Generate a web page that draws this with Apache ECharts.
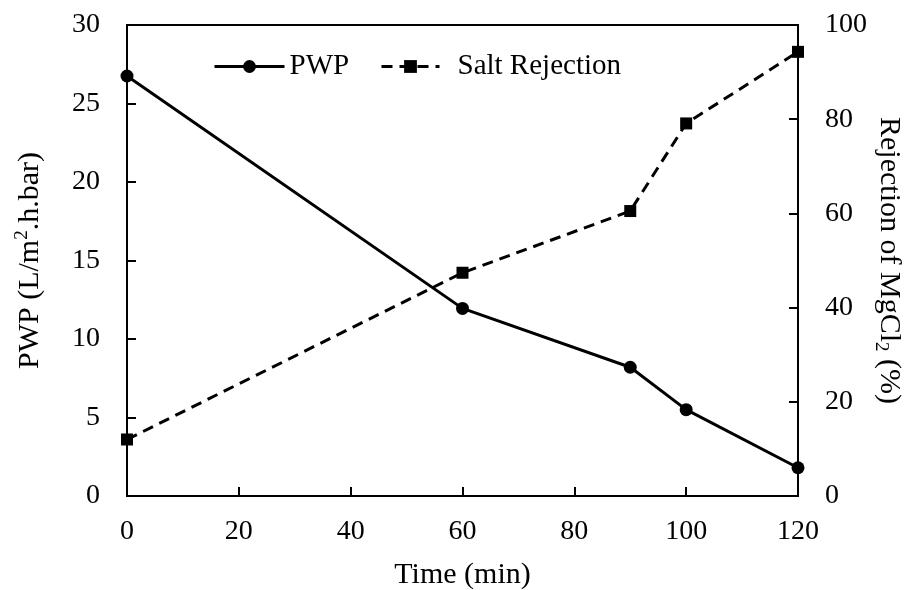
<!DOCTYPE html>
<html>
<head>
<meta charset="utf-8">
<script src="https://cdn.jsdelivr.net/npm/echarts@6/dist/echarts.min.js"></script>
<style>
  html, body { margin: 0; padding: 0; background: #fff; }
  #chart { width: 908px; height: 590px; }
</style>
</head>
<body>
<div id="chart"></div>
<script>
// Time points (min)
const timeMin = [0, 60, 90, 100, 120];
// Pure water permeability, L/m2.h.bar
const pwpValues = [26.75, 11.95, 8.2, 5.5, 1.8];
// MgCl2 rejection, %
const rejectionValues = [12.0, 47.4, 60.5, 79.1, 94.3];

const FONT = 'Liberation Serif';
const BLACK = '#000';
const TICK_SIZE = 28;
const NAME_SIZE = 30;

const pair = (xs, ys) => xs.map((x, i) => [x, ys[i]]);

const chart = echarts.init(document.getElementById('chart'), null, { renderer: 'canvas' });

const axisCommon = {
  axisLine: { show: true, lineStyle: { color: BLACK, width: 2 } },
  axisTick: { show: true, inside: true, length: 9, lineStyle: { color: BLACK, width: 2 } },
  axisLabel: { color: BLACK, fontFamily: FONT, fontSize: TICK_SIZE },
  splitLine: { show: false },
  nameTextStyle: { color: BLACK, fontFamily: FONT, fontSize: NAME_SIZE }
};

const legendText = { color: BLACK, fontFamily: FONT, fontSize: 29 };

chart.setOption({
  animation: false,
  backgroundColor: '#fff',
  grid: {
    left: 127, right: 110, top: 25, bottom: 94,
    containLabel: false,
    outerBoundsMode: 'none',
    show: true, borderColor: BLACK, borderWidth: 2, backgroundColor: 'transparent'
  },
  legend: [
    {
      data: ['PWP'], left: 208, top: 47,
      itemWidth: 70, itemHeight: 16,
      lineStyle: { width: 3 },
      textStyle: { ...legendText, padding: [0, 0, 0, 0] }
    },
    {
      data: ['Salt Rejection'], left: 375, top: 47,
      itemWidth: 58, itemHeight: 16,
      lineStyle: { width: 3 },
      textStyle: { ...legendText, padding: [0, 0, 0, 13] }
    }
  ],
  xAxis: {
    type: 'value', min: 0, max: 120, interval: 20,
    name: 'Time (min)', nameLocation: 'middle', nameGap: 64,
    ...axisCommon,
    axisLabel: { ...axisCommon.axisLabel, margin: 22 }
  },
  yAxis: [
    {
      type: 'value', min: 0, max: 30, interval: 5, position: 'left',
      name: '{n|PWP (L/m}{s|2}{n|.h.bar)}', nameLocation: 'middle', nameGap: 82, nameRotate: 90,
      ...axisCommon,
      nameTextStyle: {
        ...axisCommon.nameTextStyle,
        rich: {
          n: { fontFamily: FONT, fontSize: NAME_SIZE, color: BLACK, lineHeight: 34, verticalAlign: 'bottom' },
          s: { fontFamily: FONT, fontSize: 19, color: BLACK, lineHeight: 34, verticalAlign: 'bottom', padding: [0, 0, 13, 0] }
        }
      },
      axisLabel: { ...axisCommon.axisLabel, margin: 27 }
    },
    {
      type: 'value', min: 0, max: 100, interval: 20, position: 'right',
      name: '{n|Rejection of MgCl}{s|2}{n| (%)}', nameLocation: 'middle', nameGap: 72, nameRotate: -90,
      nameMoveOverlap: false,
      ...axisCommon,
      nameTextStyle: {
        ...axisCommon.nameTextStyle,
        rich: {
          n: { fontFamily: FONT, fontSize: NAME_SIZE, color: BLACK, lineHeight: 34, verticalAlign: 'top' },
          s: { fontFamily: FONT, fontSize: 19, color: BLACK, lineHeight: 34, verticalAlign: 'top', padding: [14, 0, 0, 0] }
        }
      },
      axisLabel: { ...axisCommon.axisLabel, margin: 27 }
    }
  ],
  series: [
    {
      name: 'PWP', type: 'line', yAxisIndex: 0,
      data: pair(timeMin, pwpValues),
      symbol: 'circle', symbolSize: 13,
      lineStyle: { color: BLACK, width: 3, type: 'solid' },
      itemStyle: { color: BLACK },
      z: 3
    },
    {
      name: 'Salt Rejection', type: 'line', yAxisIndex: 1,
      data: pair(timeMin, rejectionValues),
      symbol: 'rect', symbolSize: 12,
      lineStyle: { color: BLACK, width: 3, type: [11, 7] },
      itemStyle: { color: BLACK },
      z: 3
    }
  ]
});
</script>
</body>
</html>
